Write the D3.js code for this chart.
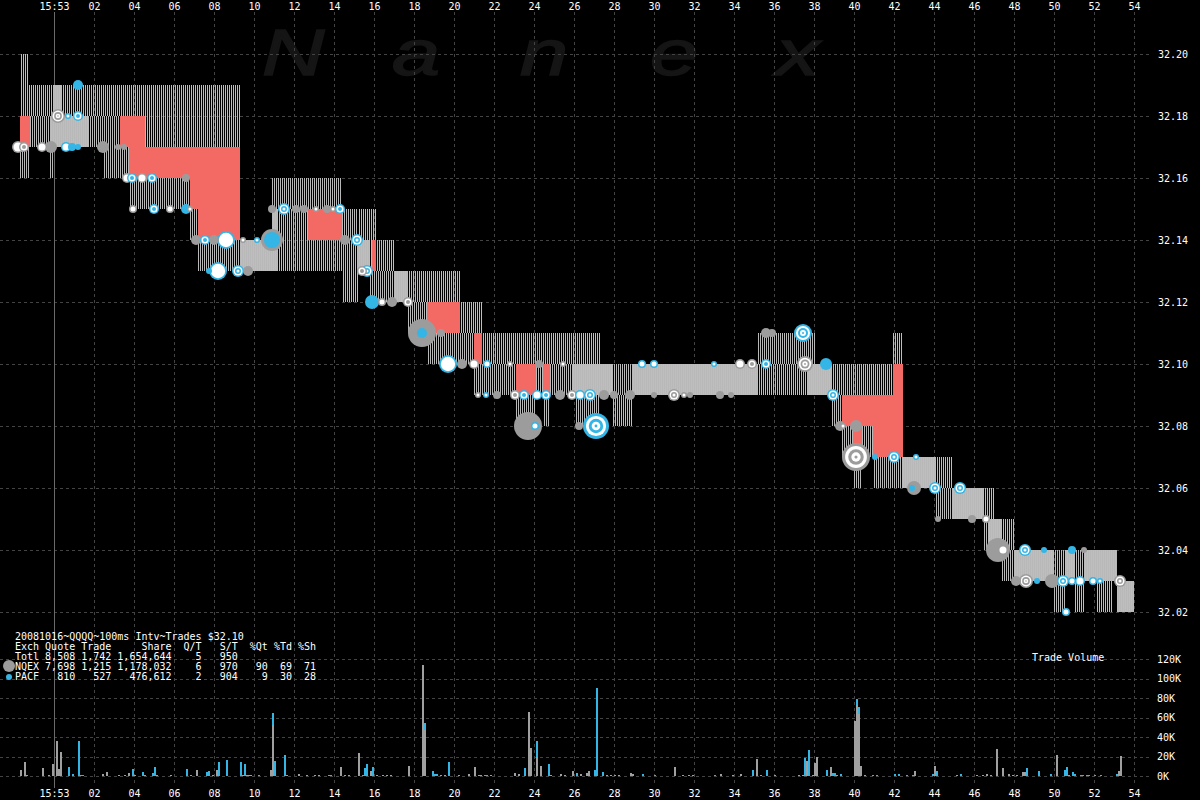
<!DOCTYPE html>
<html><head><meta charset="utf-8">
<script src="https://cdn.jsdelivr.net/npm/d3@7"></script>
<style>
html,body{margin:0;padding:0;background:#000;}
svg{display:block;background:#000;}
text{font-family:"DejaVu Sans Mono",monospace;font-size:10px;fill:#fff;}
.mono{white-space:pre;}
</style></head><body>
<svg id="c" width="1200" height="800"></svg>
<script>
// ---------- DATA ----------
const timeTickSecs = [0,2,4,6,8,10,12,14,16,18,20,22,24,26,28,30,32,34,36,38,40,42,44,46,48,50,52,54];
const timeTickLabels = ["15:53","02","04","06","08","10","12","14","16","18","20","22","24","26","28","30","32","34","36","38","40","42","44","46","48","50","52","54"];
const priceTicks = [32.02,32.04,32.06,32.08,32.10,32.12,32.14,32.16,32.18,32.20];
const volumeTicks = [0,20000,40000,60000,80000,100000,120000];
const quoteEnd = 54.0;

// quotes: [seconds after 15:53:00, bid, ask] (step changes)
const nqexQuotes = [
 [-1.7,32.16,32.17],[-1.2,32.17,32.18],[-0.2,32.16,32.18],[-0.05,32.17,32.19],[0.4,32.17,32.18],
 [2.5,32.16,32.18],[3.3,32.16,32.17],[3.75,32.15,32.16],[6.8,32.14,32.15],[7.2,32.13,32.14],
 [10.9,32.13,32.16],[11.2,32.15,32.16],[14.4,32.14,32.15],[15.2,32.13,32.14],[15.8,32.12,32.13],
 [17.7,32.11,32.12],[18.65,32.10,32.11],[21.0,32.09,32.10],[23.1,32.08,32.09],[24.1,32.09,32.10],
 [24.45,32.08,32.09],[24.8,32.09,32.10],[26.1,32.08,32.10],[27.3,32.09,32.10],[35.15,32.10,32.11],
 [37.65,32.09,32.11],[38.05,32.09,32.10],[38.9,32.08,32.09],[39.4,32.07,32.08],[39.95,32.06,32.07],
 [40.4,32.07,32.08],[40.95,32.06,32.07],[44.1,32.05,32.06],[46.45,32.04,32.05],[47.35,32.03,32.04],
 [50.0,32.02,32.03],[50.6,32.03,32.04],[53.15,32.02,32.03]
];
const pacfQuotes = [
 [-1.7,32.18,32.20],[-1.3,32.18,32.19],[-0.2,32.17,32.19],[1.7,32.18,32.19],[4.55,32.17,32.19],
 [9.3,32.13,32.14],[10.9,32.13,32.15],[12.7,32.13,32.14],[14.4,32.12,32.14],[15.2,32.13,32.15],
 [15.9,32.14,32.15],[16.1,32.13,32.14],[17.05,32.12,32.13],[20.3,32.11,32.12],[21.4,32.10,32.11],
 [25.9,32.09,32.11],[27.3,32.09,32.10],[27.9,32.08,32.09],[28.95,32.09,32.10],[41.95,32.10,32.11],
 [42.45,32.06,32.07],[44.95,32.05,32.06],[46.75,32.04,32.06],[47.0,32.04,32.05],[48.0,32.03,32.04],
 [51.05,32.02,32.03],[51.55,32.03,32.04],[52.15,32.02,32.04],[52.95,32.03,32.04],[53.15,32.02,32.03]
];

// trades: [seconds, price, exchange, shares, print kind F=plain R=ring T=target]
const trades = [
 [-1.8,32.17,"N",18400,"R"],[-1.5,32.17,"N",12800,"T"],[-0.6,32.17,"N",12800,"R"],[-0.15,32.17,"N",18400,"F"],
 [0.6,32.17,"P",12800,"R"],[0.9,32.17,"P",8200,"F"],[1.2,32.17,"P",4600,"F"],[0.2,32.18,"N",25000,"T"],
 [0.7,32.18,"P",4600,"R"],[1.2,32.18,"P",12800,"T"],[1.2,32.19,"P",12800,"F"],[2.45,32.17,"N",18400,"F"],
 [3.2,32.17,"N",4600,"F"],[3.5,32.17,"N",4600,"F"],[3.65,32.16,"N",12800,"R"],[3.9,32.16,"P",12800,"T"],
 [4.4,32.16,"N",12800,"R"],[4.9,32.16,"P",12800,"T"],[6.6,32.16,"N",8200,"F"],[3.95,32.15,"N",8200,"R"],
 [5.0,32.15,"P",12800,"T"],[5.8,32.15,"N",8200,"R"],[6.6,32.15,"P",12800,"F"],[6.8,32.15,"N",4600,"R"],
 [7.1,32.14,"N",12800,"F"],[7.55,32.14,"P",12800,"T"],[8.0,32.14,"N",12800,"F"],[8.6,32.14,"P",41300,"R"],
 [9.45,32.14,"N",4600,"R"],[10.15,32.14,"P",4600,"R"],[8.2,32.13,"P",41300,"R"],[7.75,32.13,"P",4600,"F"],
 [9.2,32.13,"P",18400,"T"],[9.7,32.13,"N",12800,"F"],[10.9,32.14,"N",61700,"F"],[10.9,32.14,"P",32700,"F"],
 [10.9,32.15,"N",8200,"F"],[11.5,32.15,"P",18400,"T"],[12.1,32.15,"N",8200,"F"],[12.5,32.15,"N",8200,"F"],
 [13.1,32.15,"N",4600,"R"],[13.65,32.15,"N",8200,"F"],[13.95,32.15,"N",4600,"R"],[14.3,32.15,"P",12800,"T"],
 [14.55,32.14,"N",12800,"F"],[15.15,32.14,"P",18400,"T"],[15.4,32.13,"N",12800,"T"],[15.65,32.13,"P",18400,"T"],
 [15.9,32.12,"P",25000,"F"],[16.4,32.12,"N",8200,"R"],[16.9,32.12,"N",12800,"F"],[17.7,32.12,"N",12800,"T"],
 [18.4,32.11,"N",100000,"F"],[18.4,32.11,"P",12800,"F"],[19.35,32.11,"N",8200,"F"],[19.7,32.10,"P",41300,"R"],
 [20.4,32.10,"N",12800,"F"],[21.0,32.10,"N",12800,"R"],[21.65,32.10,"P",8200,"R"],[22.8,32.10,"N",4600,"R"],
 [24.25,32.10,"N",8200,"F"],[25.45,32.10,"N",4600,"R"],[21.2,32.09,"N",4600,"R"],[21.6,32.09,"P",4600,"R"],
 [22.15,32.09,"N",8200,"F"],[23.05,32.09,"N",12800,"T"],[23.5,32.09,"P",12800,"T"],[24.15,32.09,"P",12800,"R"],
 [24.6,32.09,"P",12800,"T"],[25.3,32.09,"N",12800,"F"],[25.9,32.09,"N",12800,"T"],[26.3,32.09,"P",12800,"R"],
 [26.8,32.09,"P",18400,"T"],[27.5,32.09,"N",12800,"F"],[28.0,32.09,"N",8200,"F"],[28.8,32.09,"N",12800,"F"],
 [23.7,32.08,"N",100000,"F"],[24.05,32.08,"P",8200,"R"],[27.1,32.08,"P",86200,"T"],[26.25,32.08,"N",8200,"F"],
 [29.4,32.10,"P",8200,"R"],[30.0,32.10,"P",8200,"R"],[30.0,32.09,"N",4600,"F"],[31.0,32.09,"N",18400,"T"],
 [31.5,32.09,"N",4600,"R"],[31.8,32.09,"N",4600,"F"],[33.0,32.10,"P",4600,"R"],[33.3,32.09,"N",8200,"F"],
 [33.85,32.09,"N",4600,"F"],[34.3,32.10,"N",12800,"R"],[34.9,32.10,"N",12800,"T"],[35.6,32.10,"P",12800,"T"],
 [35.6,32.11,"N",12800,"F"],[35.9,32.11,"N",8200,"F"],[37.45,32.11,"P",41300,"T"],[37.55,32.10,"N",32700,"T"],
 [38.6,32.10,"P",18400,"F"],[38.95,32.09,"P",18400,"T"],[39.3,32.08,"N",12800,"F"],[39.45,32.08,"N",4600,"R"],
 [40.1,32.08,"N",18400,"F"],[40.1,32.07,"N",100000,"T"],[41.05,32.07,"P",4600,"F"],[42.0,32.07,"P",18400,"T"],
 [43.1,32.07,"P",4600,"R"],[42.9,32.06,"P",4600,"F"],[43.0,32.06,"N",25000,"F"],[44.05,32.06,"P",18400,"T"],
 [45.3,32.06,"P",18400,"T"],[44.2,32.05,"N",4600,"F"],[45.9,32.05,"N",8200,"F"],[46.6,32.05,"N",8200,"R"],
 [47.2,32.04,"N",73500,"F"],[47.45,32.04,"N",12800,"R"],[48.55,32.04,"P",18400,"T"],[49.5,32.04,"P",4600,"F"],
 [50.9,32.04,"P",8200,"F"],[51.5,32.04,"N",4600,"F"],[48.1,32.03,"N",12800,"F"],[48.6,32.03,"N",25000,"T"],
 [49.15,32.03,"P",4600,"F"],[49.9,32.03,"N",25000,"F"],[50.45,32.03,"P",18400,"T"],[50.9,32.03,"P",8200,"R"],
 [51.3,32.03,"P",12800,"R"],[51.95,32.03,"P",8200,"R"],[52.3,32.03,"P",4600,"R"],[53.3,32.03,"N",18400,"T"],
 [50.6,32.02,"P",8200,"R"]
];

// volume per 100ms interval: [seconds, exchange, shares]
const volumes = [
 [-1.7,"N",5700],[-1.5,"N",14000],[-1.4,"N",1300],[-0.6,"N",8000],[-0.3,"N",1300],[-0.1,"N",12000],[0.1,"N",35700],[0.2,"N",6700],[0.3,"N",24700],
 [0.7,"P",9000],[0.9,"P",2300],[1.2,"P",36000],[1.3,"P",700],[1.4,"P",700],
 [2.4,"N",2300],[2.6,"N",4300],[3.2,"N",700],[3.5,"N",700],[3.7,"N",3000],[3.9,"P",7300],[4.0,"N",1300],[4.4,"P",4300],[4.5,"N",1300],
 [4.9,"P",3300],[5.0,"P",9300],[5.1,"N",1300],[5.8,"N",1300],[6.6,"P",7300],[6.8,"N",700],[7.1,"N",6300],[7.6,"P",4000],[7.7,"P",5300],
 [7.9,"N",1300],[8.1,"N",5700],[8.2,"P",14300],[8.6,"P",16300],[9.3,"P",14700],[9.4,"N",1300],[9.5,"P",12000],[9.6,"N",1300],[9.7,"N",1300],[9.8,"N",1300],
 [10.2,"P",1300],[10.8,"N",6300],[10.9,"N",52000],[10.9,"P",13000],[11.0,"P",15700],[11.5,"P",21300],[11.6,"N",700],[12.2,"N",2300],[12.6,"N",700],
 [13.0,"N",700],[13.2,"N",700],[13.7,"P",700],[13.8,"P",700],[14.3,"N",9000],[14.5,"N",700],[14.7,"N",700],[15.2,"N",24000],[15.4,"P",1300],
 [15.5,"P",8000],[15.6,"P",12000],[15.8,"N",5300],[15.9,"P",9000],[16.1,"N",700],[16.4,"N",1300],[16.6,"N",700],[16.8,"N",700],[17.7,"N",10000],
 [18.4,"N",114000],[18.5,"N",47000],[18.5,"P",7000],[18.9,"P",5000],[19.0,"P",2000],[19.1,"P",2000],[19.3,"N",700],[19.5,"N",700],[19.7,"P",14000],
 [20.2,"N",700],[20.7,"N",2300],[21.0,"N",9000],[21.2,"N",700],[21.3,"N",700],[21.5,"P",700],[21.6,"P",700],[21.8,"N",700],
 [23.0,"N",3000],[23.2,"N",2300],[23.5,"P",8000],[23.7,"N",65700],[23.8,"N",29000],[24.1,"N",20000],[24.1,"P",16000],[24.3,"N",10000],
 [24.7,"P",12000],[24.8,"N",1300],[25.3,"N",2300],[25.5,"N",1300],[25.9,"N",5300],[26.1,"P",3000],[26.3,"N",2300],[26.6,"N",3000],[26.7,"N",5300],
 [27.0,"P",6300],[27.1,"P",90000],[27.4,"P",4000],[27.6,"N",700],[27.8,"N",700],[28.0,"N",700],[28.2,"N",700],[28.8,"N",3300],[28.9,"N",2000],
 [29.4,"P",2300],[30.0,"P",1300],[31.0,"N",9300],[31.4,"N",700],[31.7,"N",700],[31.9,"N",700],[33.0,"P",700],[33.3,"N",2300],[33.9,"N",1300],
 [34.3,"N",2300],[34.9,"P",6300],[35.1,"N",17300],[35.3,"N",1300],[35.6,"P",6300],[36.0,"N",700],[37.2,"N",700],[37.4,"N",700],[37.5,"P",18000],
 [37.6,"N",15700],[37.7,"P",26300],[37.9,"N",1300],[38.0,"N",13300],[38.1,"N",20000],[38.6,"P",6300],[38.8,"N",9300],[38.9,"P",2700],[39.0,"P",3300],
 [39.1,"N",1300],[39.3,"P",1700],[40.0,"N",56000],[40.1,"N",73000],[40.1,"P",6000],[40.2,"N",64000],[40.2,"P",7000],[40.3,"N",10700],[40.5,"N",1300],
 [40.9,"P",700],[41.1,"P",700],[42.0,"P",2000],[42.2,"P",2300],[42.6,"P",700],[42.9,"P",700],[43.0,"N",5300],[43.9,"P",1700],[44.0,"N",10700],
 [44.1,"P",4700],[45.1,"N",700],[45.3,"P",2300],[46.1,"N",1300],[46.4,"N",1300],[46.6,"N",2300],[46.8,"N",1300],[47.1,"N",27300],[47.4,"N",8300],
 [47.7,"N",2300],[47.9,"N",700],[48.1,"N",700],[48.4,"N",4000],[48.5,"N",4000],[48.6,"P",8300],[49.2,"P",4700],[49.8,"P",1700],[50.1,"N",21300],
 [50.5,"P",5700],[50.6,"P",9300],[50.7,"N",1300],[50.9,"P",4300],[51.0,"P",2300],[51.3,"P",1300],[51.4,"P",1300],[51.6,"P",1300],[51.7,"P",700],
 [52.0,"P",700],[52.3,"P",700],[53.1,"P",1700],[53.2,"N",5300],[53.3,"N",20700]
];

const legendLines = [
 "20081016~QQQQ~100ms Intv~Trades $32.10",
 "Exch Quote Trade     Share  Q/T   S/T  %Qt %Td %Sh",
 "Totl 8,508 1,742 1,654,644    5   950",
 "NQEX 7,698 1,215 1,178,032    6   970   90  69  71",
 "PACF   810   527   476,612    2   904    9  30  28"
];
const watermark = ["N","a","n","e","x"];

// ---------- CHART ----------
const svg = d3.select("#c");
const x = d3.scaleLinear().domain([0,54]).range([54,1134]);
const yP = d3.scaleLinear().domain([32.02,32.20]).range([612,54]);
const yV = d3.scaleLinear().domain([0,120000]).range([776,659]);
const rS = d3.scaleSqrt().domain([0,100000]).range([0,14]);
const dotColor = {N:"#9c9c9c", P:"#33b5e5"};
const stripeColor = {N:"#b8b8b8", P:"#84d2f2"};
const stripeParity = {N:0, P:1};
const barColor = {N:"#a0a0a0", P:"#33b5e5"};
const gridCol = "#434343";

// watermark
const wmX = [262,392,520,650,776];
watermark.forEach((ch,i)=>{
  svg.append("text").text(ch)
    .attr("transform",`translate(${wmX[i]},75) scale(1.35,1)`)
    .style("font-family","'Liberation Sans',Arial,sans-serif").style("font-style","italic")
    .style("font-size","64px").style("fill","#151515")
    .style("stroke","#151515").style("stroke-width","1.5px");
});

// grid
const grid = svg.append("g");
grid.selectAll(".vg").data(timeTickSecs.filter(d=>d>0)).join("line")
  .attr("x1",d=>x(d)+0.5).attr("x2",d=>x(d)+0.5).attr("y1",12).attr("y2",786)
  .attr("stroke",gridCol).attr("stroke-dasharray","3,3");
grid.selectAll(".hg").data(priceTicks).join("line")
  .attr("x1",0).attr("x2",1150).attr("y1",d=>Math.round(yP(d))+0.5).attr("y2",d=>Math.round(yP(d))+0.5)
  .attr("stroke",gridCol).attr("stroke-dasharray","3,3");
grid.selectAll(".vgv").data(volumeTicks).join("line")
  .attr("x1",0).attr("x2",1150).attr("y1",d=>Math.round(yV(d))+0.5).attr("y2",d=>Math.round(yV(d))+0.5)
  .attr("stroke",gridCol).attr("stroke-dasharray","3,3");
svg.append("line").attr("x1",x(0)+0.5).attr("x2",x(0)+0.5).attr("y1",12).attr("y2",788)
  .attr("stroke","#6a6a6a");

// quote bands drawn as one 1px vertical rect per 100ms column
function segs(q){ return q.map((d,i)=>({t0:d[0], t1: i<q.length-1? q[i+1][0] : quoteEnd, bid:d[1], ask:d[2]})); }
const quoteSets = {N:segs(nqexQuotes), P:segs(pacfQuotes)};
const bands = svg.append("g").attr("shape-rendering","crispEdges");
["N","P"].forEach(k=>{
  const cols = [];
  quoteSets[k].forEach(d=>{
    const x0=Math.round(x(d.t0)), x1=Math.round(x(d.t1));
    for(let c=x0;c<x1;c++){ if(((c%2)+2)%2===stripeParity[k]) cols.push({c:c, bid:d.bid, ask:d.ask}); }
  });
  bands.append("g").selectAll("rect").data(cols).join("rect")
    .attr("x",d=>d.c).attr("width",1)
    .attr("y",d=>Math.round(yP(d.ask))).attr("height",d=>Math.round(yP(d.bid))-Math.round(yP(d.ask)))
    .style("fill",stripeColor[k]);
});
// crossed market (max bid above min ask)
const bps = Array.from(new Set(nqexQuotes.map(d=>d[0]).concat(pacfQuotes.map(d=>d[0])).concat([quoteEnd]))).sort((a,b)=>a-b);
const crossed = [];
for(let i=0;i<bps.length-1;i++){
  const a=bps[i], b=bps[i+1], m=(a+b)/2;
  const act = ["N","P"].map(k=>quoteSets[k].find(s=>s.t0<=m && s.t1>m)).filter(Boolean);
  if(act.length<2) continue;
  const mb = d3.max(act,s=>s.bid), ma = d3.min(act,s=>s.ask);
  if(mb > ma + 1e-9) crossed.push({t0:a,t1:b,lo:ma,hi:mb});
}
bands.append("g").selectAll("rect").data(crossed).join("rect")
  .attr("x",d=>x(d.t0)).attr("width",d=>x(d.t1)-x(d.t0))
  .attr("y",d=>yP(d.hi)).attr("height",d=>yP(d.lo)-yP(d.hi)).attr("fill","#f36a65");

// trades
const tg = svg.append("g");
trades.slice().sort((a,b)=>b[3]-a[3]).forEach(d=>{
  const cx=x(d[0]), cy=yP(d[1]), r=rS(d[3]), c=dotColor[d[2]];
  if(d[4]==="F"){
    tg.append("circle").attr("cx",cx).attr("cy",cy).attr("r",r).attr("fill",c);
  } else if(d[4]==="R"){
    tg.append("circle").attr("cx",cx).attr("cy",cy).attr("r",r).attr("fill",c);
    tg.append("circle").attr("cx",cx).attr("cy",cy).attr("r",Math.max(0.8,r-Math.max(1.5,r*0.2))).attr("fill","#fff");
  } else {
    const step=Math.max(1.5,r/4.5); let rr=r, k=0;
    while(rr>0.6){
      tg.append("circle").attr("cx",cx).attr("cy",cy).attr("r",rr).attr("fill",k%2?"#fff":c);
      rr-=step; k++;
    }
  }
});

// volume bars (stacked per interval)
const vb = svg.append("g").attr("shape-rendering","crispEdges");
const stackBase = {};
volumes.slice().sort((a,b)=>a[0]-b[0] || (a[1]==="N"?-1:1)).forEach(d=>{
  const key=d[0].toFixed(2); const base=stackBase[key]||0;
  vb.append("rect").attr("x",Math.round(x(d[0]))).attr("width",2)
    .attr("y",yV(base+d[2])).attr("height",yV(base)-yV(base+d[2])).attr("fill",barColor[d[1]]);
  stackBase[key]=base+d[2];
});

// axes
function styleAxis(g){ g.select(".domain").remove(); g.attr("font-family",null).attr("font-size",null); }
const fmtT = (d)=>timeTickLabels[timeTickSecs.indexOf(d)];
svg.append("g").attr("transform","translate(0,10)")
  .call(d3.axisTop(x).tickValues(timeTickSecs).tickFormat(fmtT).tickSize(0).tickPadding(0.5)).call(styleAxis);
svg.append("g").attr("transform","translate(0,789.5)")
  .call(d3.axisBottom(x).tickValues(timeTickSecs).tickFormat(fmtT).tickSize(0).tickPadding(0)).call(styleAxis);
svg.append("g").attr("transform","translate(1158,0)")
  .call(d3.axisRight(yP).tickValues(priceTicks).tickFormat(d3.format(".2f")).tickSize(0).tickPadding(0)).call(styleAxis);
svg.append("g").attr("transform","translate(1157,0)")
  .call(d3.axisRight(yV).tickValues(volumeTicks).tickFormat(d=>(d/1000)+"K").tickSize(0).tickPadding(0)).call(styleAxis);

// legend
legendLines.forEach((s,i)=>{
  svg.append("text").attr("class","mono").attr("x",15).attr("y",639.5+i*10).text(s);
});
svg.append("circle").attr("cx",9).attr("cy",666).attr("r",6).attr("fill",dotColor.N);
svg.append("circle").attr("cx",9).attr("cy",677).attr("r",3).attr("fill",dotColor.P);
svg.append("text").attr("x",1032).attr("y",661).text("Trade Volume");
</script>
</body></html>
